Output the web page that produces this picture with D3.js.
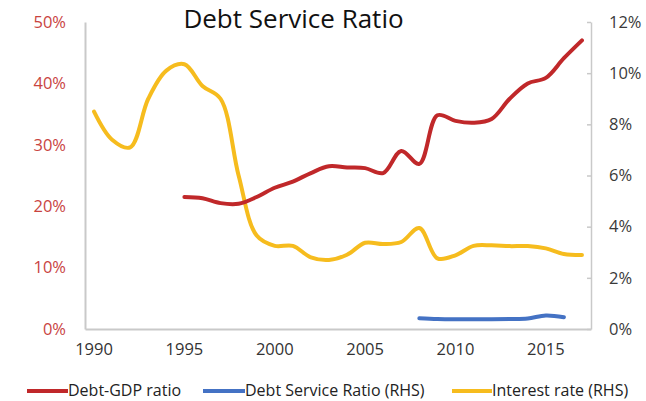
<!DOCTYPE html>
<html>
<head>
<meta charset="utf-8">
<script src="https://cdn.jsdelivr.net/npm/d3@7"></script>
<style>
  html, body { margin: 0; padding: 0; background: #fff; }
  svg { display: block; font-family: "Open Sans", sans-serif; }
</style>
</head>
<body>
<svg id="chart" width="646" height="401"></svg>
<script>
// Years on the category axis
const years = d3.range(1990, 2018);
const yearTicks = [1990, 1995, 2000, 2005, 2010, 2015];

// Debt-GDP ratio (%), left axis; no data before 1995
const debtGDP = [null, null, null, null, null,
  21.5, 21.3, 20.5, 20.4, 21.5, 23.0, 24.0, 25.4, 26.5, 26.3,
  26.2, 25.4, 29.0, 26.9, 34.8, 33.9, 33.6, 34.2, 37.5, 40.0,
  40.9, 44.1, 47.0];

// Debt service ratio (%), right axis; 2008-2016
const debtService = [null, null, null, null, null, null, null, null, null, null,
  null, null, null, null, null, null, null, null,
  0.42, 0.39, 0.38, 0.38, 0.38, 0.39, 0.41, 0.53, 0.46, null];

// Interest rate (%), right axis
const interestRate = [8.5, 7.4, 7.1, 9.0, 10.1, 10.35, 9.5, 9.0, 6.0, 3.65,
  3.25, 3.25, 2.8, 2.7, 2.9, 3.37, 3.32, 3.4, 3.95, 2.76,
  2.88, 3.25, 3.27, 3.24, 3.24, 3.15, 2.93, 2.89];

const leftTicks = [0, 10, 20, 30, 40, 50];
const rightTicks = [0, 2, 4, 6, 8, 10, 12];

const seriesNames = ["Debt-GDP ratio", "Debt Service Ratio (RHS)", "Interest rate (RHS)"];
const seriesColors = ["#c0282a", "#4472c4", "#f6bc1e"];

const svg = d3.select("#chart");
const plot = { left: 85, right: 591, top: 22, bottom: 329 };

const x = d3.scaleBand().domain(years).range([plot.left, plot.right]).padding(0);
const yL = d3.scaleLinear().domain([0, 50]).range([plot.bottom, plot.top]);
const yR = d3.scaleLinear().domain([0, 12]).range([plot.bottom, plot.top]);
const cx = yr => x(yr) + x.bandwidth() / 2;

const axisGrey = "#c9c9c9";

// Left axis (Debt-GDP)
const gL = svg.append("g").attr("transform", `translate(${plot.left},0)`)
  .call(d3.axisLeft(yL).tickValues(leftTicks).tickSize(0).tickPadding(19)
    .tickFormat(d => d + "%"));
gL.select(".domain").attr("stroke", axisGrey).attr("stroke-width", 2);
gL.selectAll("text").attr("fill", "#c9443f").style("font-size", "16.5px")
  .style("font-family", "'Open Sans', sans-serif");

// Right axis (RHS)
const gR = svg.append("g").attr("transform", `translate(${plot.right},0)`)
  .call(d3.axisRight(yR).tickValues(rightTicks).tickSizeInner(-4).tickSizeOuter(0)
    .tickPadding(18).tickFormat(d => d + "%"));
gR.select(".domain").attr("stroke", axisGrey).attr("stroke-width", 1.5);
gR.selectAll("line").attr("stroke", axisGrey).attr("stroke-width", 1.5);
gR.selectAll("text").attr("fill", "#3a3a3a").style("font-size", "16.5px")
  .style("font-family", "'Open Sans', sans-serif");

// Bottom category axis
const gX = svg.append("g").attr("transform", `translate(0,${plot.bottom})`)
  .call(d3.axisBottom(x).tickValues(yearTicks).tickSize(0).tickPadding(14));
gX.select(".domain").attr("stroke", axisGrey).attr("stroke-width", 2);
gX.selectAll("text").attr("fill", "#333").style("font-size", "16.5px")
  .style("font-family", "'Open Sans', sans-serif");

// Series lines (smoothed)
function drawLine(values, yScale, color) {
  const line = d3.line()
    .defined(d => d.v != null)
    .x(d => cx(d.year))
    .y(d => yScale(d.v))
    .curve(d3.curveCatmullRom.alpha(0.5));
  svg.append("path")
    .datum(years.map((yr, i) => ({ year: yr, v: values[i] })))
    .attr("d", line)
    .attr("fill", "none")
    .attr("stroke", color)
    .attr("stroke-width", 4)
    .attr("stroke-linecap", "round")
    .attr("stroke-linejoin", "round");
}
drawLine(interestRate, yR, seriesColors[2]);
drawLine(debtGDP, yL, seriesColors[0]);
drawLine(debtService, yR, seriesColors[1]);

// Title
svg.append("text")
  .attr("x", 293.5).attr("y", 28)
  .attr("text-anchor", "middle")
  .attr("fill", "#111")
  .style("font-size", "26px")
  .text("Debt Service Ratio");

// Legend
const legendPos = [{ sx: 27, tx: 68 }, { sx: 203, tx: 245 }, { sx: 452, tx: 492 }];
const legend = svg.append("g");
seriesNames.forEach((name, i) => {
  const p = legendPos[i];
  legend.append("line")
    .attr("x1", p.sx).attr("x2", p.tx).attr("y1", 391).attr("y2", 391)
    .attr("stroke", seriesColors[i]).attr("stroke-width", 4);
  legend.append("text")
    .attr("x", p.tx).attr("y", 396)
    .attr("fill", "#222")
    .style("font-size", "16px")
    .text(name);
});
</script>
</body>
</html>
